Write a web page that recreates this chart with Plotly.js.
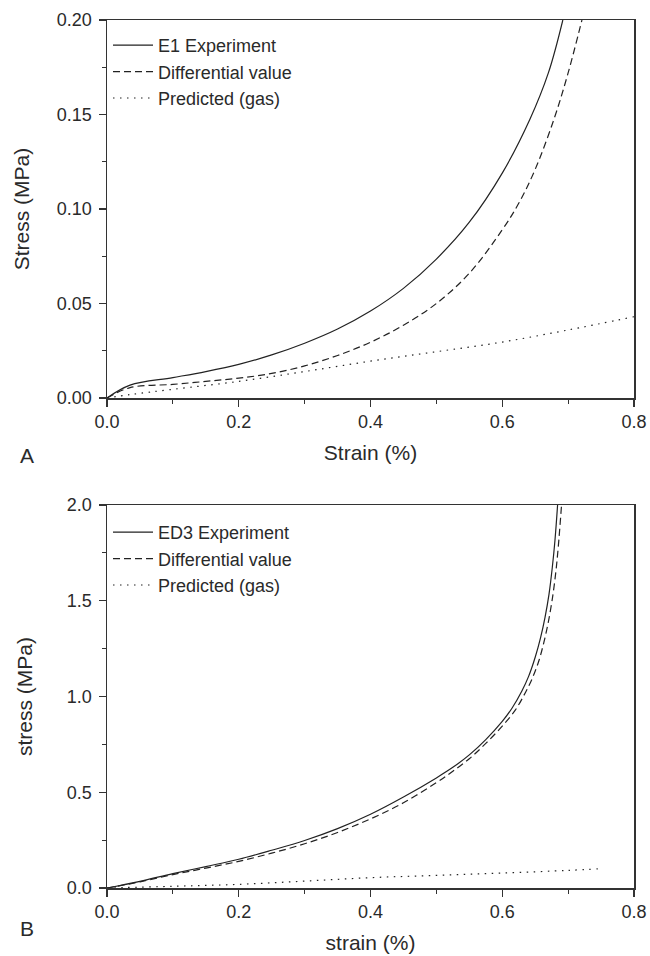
<!DOCTYPE html>
<html>
<head>
<meta charset="utf-8">
<script src="https://cdn.plot.ly/plotly-3.0.1.min.js"></script>
<style>body{margin:0;padding:0;background:#fff}#chart{width:650px;height:956px}</style>
</head>
<body>
<div id="chart"></div>
<script>
// Panel A (E1)
const strainA_exp = [0, 0.035, 0.1, 0.15, 0.2, 0.25, 0.3, 0.35, 0.4, 0.45, 0.5, 0.55, 0.6, 0.642, 0.67, 0.692];
const stressA_exp = [0, 0.0068, 0.0108, 0.0140, 0.0178, 0.0228, 0.0290, 0.0365, 0.0460, 0.0580, 0.0735, 0.0930, 0.1190, 0.1475, 0.1720, 0.2000];
const strainA_diff = [0, 0.035, 0.1, 0.15, 0.2, 0.25, 0.3, 0.35, 0.4, 0.45, 0.5, 0.55, 0.6, 0.625, 0.65, 0.679, 0.70, 0.721];
const stressA_diff = [0, 0.0055, 0.0072, 0.0088, 0.0105, 0.0130, 0.0170, 0.0225, 0.0295, 0.0385, 0.0500, 0.0660, 0.0890, 0.1030, 0.1210, 0.1480, 0.1720, 0.2000];
const strainA_gas = [0, 0.035, 0.1, 0.2, 0.3, 0.4, 0.5, 0.6, 0.7, 0.8];
const stressA_gas = [0, 0.0018, 0.0046, 0.0088, 0.0140, 0.0195, 0.0245, 0.0296, 0.0360, 0.0430];

// Panel B (ED3)
const strainB_exp = [0, 0.05, 0.1, 0.15, 0.2, 0.25, 0.3, 0.35, 0.4, 0.45, 0.5, 0.525, 0.55, 0.575, 0.6, 0.615, 0.63, 0.64, 0.65, 0.658, 0.665, 0.671, 0.676, 0.68, 0.684];
const stressB_exp = [0, 0.035, 0.075, 0.112, 0.150, 0.197, 0.248, 0.310, 0.385, 0.475, 0.575, 0.630, 0.695, 0.775, 0.870, 0.940, 1.030, 1.105, 1.205, 1.305, 1.415, 1.535, 1.675, 1.815, 2.000];
const strainB_diff = [0, 0.05, 0.1, 0.15, 0.2, 0.25, 0.3, 0.35, 0.4, 0.45, 0.5, 0.525, 0.55, 0.575, 0.6, 0.62, 0.635, 0.645, 0.655, 0.663, 0.67, 0.676, 0.681, 0.685, 0.69];
const stressB_diff = [0, 0.032, 0.070, 0.104, 0.139, 0.182, 0.231, 0.290, 0.361, 0.445, 0.550, 0.610, 0.675, 0.755, 0.845, 0.930, 1.020, 1.090, 1.180, 1.280, 1.390, 1.510, 1.640, 1.780, 2.000];
const strainB_gas = [0, 0.1, 0.2, 0.3, 0.4, 0.5, 0.6, 0.7, 0.745];
const stressB_gas = [0, 0.009, 0.019, 0.036, 0.054, 0.066, 0.078, 0.092, 0.100];

const lineCol = '#222';
const LW = 1.2;
const DASH = '7px,4px';
const DOT = '1.5px,5.5px';
const W = 650, H = 956;
const px = v => v / W, py = v => 1 - v / H;

function tr(x, y, name, dash, xa, ya, lg) {
  return {x: x, y: y, name: name, mode: 'lines', line: {color: lineCol, width: LW, shape: 'spline', smoothing: 1, dash: dash}, xaxis: xa, yaxis: ya, legend: lg};
}
const traces = [
  tr(strainA_exp, stressA_exp, 'E1 Experiment', 'solid', 'x', 'y', 'legend'),
  tr(strainA_diff, stressA_diff, 'Differential value', DASH, 'x', 'y', 'legend'),
  tr(strainA_gas, stressA_gas, 'Predicted (gas)', DOT, 'x', 'y', 'legend'),
  tr(strainB_exp, stressB_exp, 'ED3 Experiment', 'solid', 'x2', 'y2', 'legend2'),
  tr(strainB_diff, stressB_diff, 'Differential value', DASH, 'x2', 'y2', 'legend2'),
  tr(strainB_gas, stressB_gas, 'Predicted (gas)', DOT, 'x2', 'y2', 'legend2')
];

const fontFam = 'Liberation Sans, Arial, sans-serif';
const txtCol = '#2a2a2a';
const titleFont = {family: fontFam, size: 21, color: txtCol};
const axBase = {
  showline: true, mirror: true, linecolor: '#333', linewidth: 1.5,
  showgrid: false, zeroline: false, ticks: 'outside', ticklen: 7, tickwidth: 1.2, tickcolor: '#333',
  tickfont: {family: fontFam, size: 18, color: txtCol}
};
const minorT = d => ({ticks: 'outside', ticklen: 4, tickwidth: 1.2, tickcolor: '#333', dtick: d});

const layout = {
  width: W, height: H,
  margin: {l: 0, r: 0, t: 0, b: 0},
  paper_bgcolor: '#fff', plot_bgcolor: '#fff',
  showlegend: true,
  font: {family: fontFam, color: txtCol},
  xaxis: Object.assign({}, axBase, {domain: [px(107), px(634)], range: [0, 0.8], dtick: 0.2, tick0: 0, tickformat: '.1f', anchor: 'y',
    minor: minorT(0.1), title: {text: 'Strain (%)', font: titleFont, standoff: 14}}),
  yaxis: Object.assign({}, axBase, {domain: [py(398), py(20)], range: [0, 0.2], dtick: 0.05, tick0: 0, tickformat: '.2f', anchor: 'x',
    minor: minorT(0.025), ticklabelstandoff: 3, title: {text: 'Stress (MPa)', font: titleFont, standoff: 21}}),
  xaxis2: Object.assign({}, axBase, {domain: [px(107), px(634)], range: [0, 0.8], dtick: 0.2, tick0: 0, tickformat: '.1f', anchor: 'y2',
    minor: minorT(0.1), title: {text: 'strain (%)', font: titleFont, standoff: 14}}),
  yaxis2: Object.assign({}, axBase, {domain: [py(888), py(505)], range: [0, 2.0], dtick: 0.5, tick0: 0, tickformat: '.1f', anchor: 'x2',
    minor: minorT(0.25), ticklabelstandoff: 3, title: {text: 'stress (MPa)', font: titleFont, standoff: 28}}),
  legend: {x: px(108), y: py(27), xanchor: 'left', yanchor: 'top', bgcolor: 'rgba(0,0,0,0)', borderwidth: 0,
    font: {family: fontFam, size: 18, color: txtCol}, tracegroupgap: 0, itemwidth: 40},
  legend2: {x: px(108), y: py(514), xanchor: 'left', yanchor: 'top', bgcolor: 'rgba(0,0,0,0)', borderwidth: 0,
    font: {family: fontFam, size: 18, color: txtCol}, tracegroupgap: 0, itemwidth: 40},
  annotations: [
    {text: 'A', x: px(18), y: py(455), xref: 'paper', yref: 'paper', showarrow: false, font: {family: fontFam, size: 21, color: txtCol}},
    {text: 'B', x: px(18), y: py(942), xref: 'paper', yref: 'paper', showarrow: false, font: {family: fontFam, size: 21, color: txtCol}}
  ]
};

Plotly.newPlot('chart', traces, layout, {displayModeBar: false, staticPlot: true});
</script>
</body>
</html>
